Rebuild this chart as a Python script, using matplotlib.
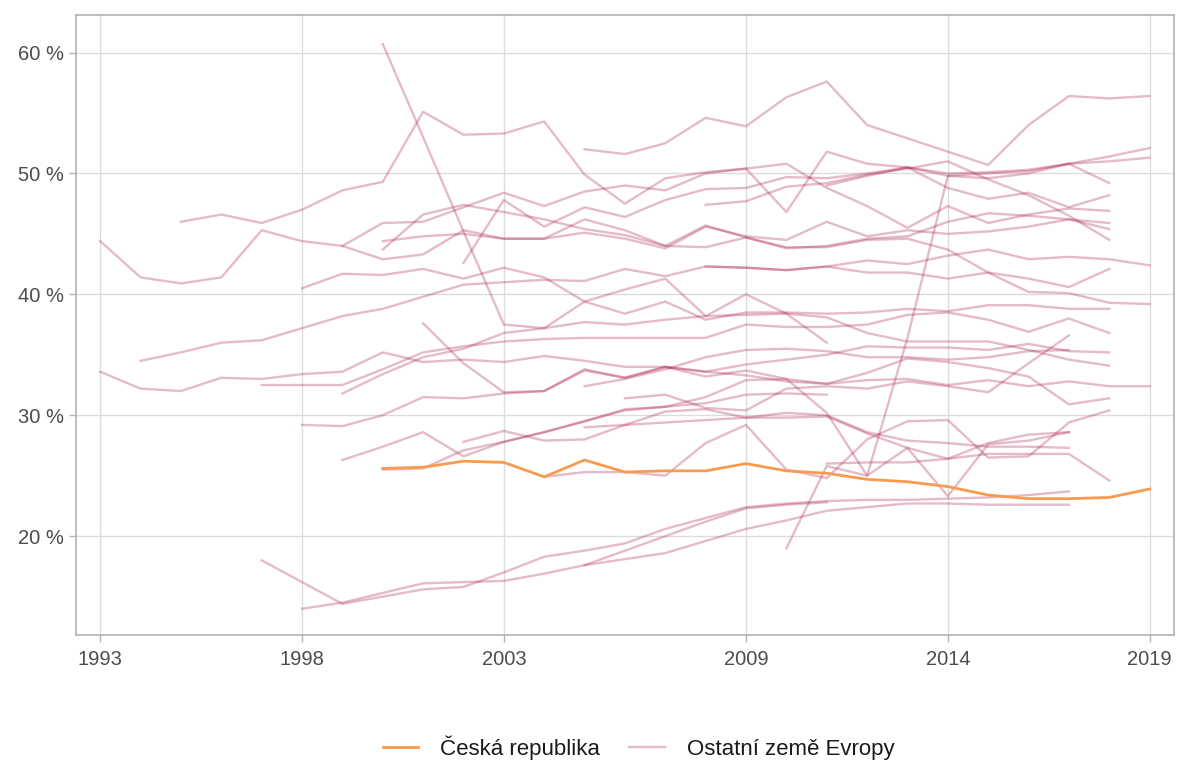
import numpy as np
import matplotlib
matplotlib.use("agg")
import matplotlib.pyplot as plt

plt.rcParams['font.family'] = ['Liberation Sans', 'DejaVu Sans']

# Czech Republic
cz_start = 2000
cz_values = [25.6, 25.7, 26.2, 26.1, 24.9, 26.3, 25.3, 25.4, 25.4, 26.0,
             25.4, 25.2, 24.7, 24.5, 24.1, 23.4, 23.1, 23.1, 23.2, 23.9]

# other European countries: (first year, values)
others = [
    (1993, [44.4, 41.4, 40.9, 41.4, 45.3, 44.4, 44.0, 42.9, 43.3, 45.3, 44.6, 44.6, 45.1,
            44.6, 43.8, 45.6, 44.8, 44.5, 46.0, 44.8, 45.3, 45.0, 45.2, 45.6, 46.2, 45.9]),
    (1995, [46.0, 46.6, 45.9, 47.0, 48.6, 49.3, 55.1, 53.2, 53.3, 54.3, 49.9, 47.5, 49.6,
            50.1, 50.4, 50.8, 48.8, 47.3, 45.5, 47.3, 45.9, 46.6, 47.1, 46.9]),
    (2005, [52.0, 51.6, 52.5, 54.6, 53.9, 56.3, 57.6, 54.0, 52.9, 51.8, 50.7, 54.0, 56.4,
            56.2, 56.4]),
    (2000, [60.7, 53.0, 45.2, 37.5, 37.2, 39.4, 40.4, 41.3, 38.2, 40.0, 38.4, 36.0]),
    (1994, [34.5, 35.2, 36.0, 36.2, 37.2, 38.2, 38.8, 39.8, 40.8, 41.0, 41.2, 41.1, 42.1,
            41.5, 42.3, 42.2, 42.0, 42.3, 41.8, 41.8, 41.3, 41.8, 41.3, 40.6, 42.1]),
    (1999, [44.0, 45.9, 46.0, 47.2, 48.4, 47.3, 48.5, 49.0, 48.6, 50.0, 50.4, 46.8, 51.8,
            50.8, 50.5, 50.0, 50.1, 50.3, 50.8, 49.2]),
    (2000, [43.7, 46.6, 47.4, 46.8, 46.2, 45.4, 44.9, 44.0, 43.9, 44.7, 43.9, 43.9, 44.5,
            44.6, 43.7, 41.8, 40.2, 40.1, 39.3, 39.2]),
    (2000, [44.4, 44.8, 45.0, 44.6, 44.6, 46.2, 45.3, 44.0, 45.7, 44.7, 43.8, 44.0, 44.6,
            44.8, 46.0, 46.7, 46.5, 46.2, 45.4]),
    (2002, [42.6, 47.8, 45.6, 47.2, 46.4, 47.8, 48.7, 48.8, 49.7, 49.6, 50.0, 50.5, 49.8,
            49.6, 50.0, 50.8, 51.0, 51.3]),
    (2008, [47.4, 47.7, 48.9, 49.2, 49.9, 50.4, 51.0, 49.5, 48.2, 46.5, 44.5]),
    (2011, [49.0, 49.8, 50.5, 48.8, 47.9, 48.4, 47.2, 48.2]),
    (2008, [42.3, 42.2, 42.0, 42.3, 42.8, 42.5, 43.2, 43.7, 42.9, 43.1, 42.9, 42.4]),
    (1998, [40.5, 41.7, 41.6, 42.1, 41.3, 42.2, 41.4, 39.4, 38.4, 39.4, 37.9, 38.5, 38.5,
            38.4, 38.5, 38.8, 38.6, 39.1, 39.1, 38.8, 38.8]),
    (1997, [32.5, 32.5, 32.5, 33.8, 35.2, 35.7, 36.1, 36.3, 36.4, 36.4, 36.4, 36.4, 37.5,
            37.3, 37.3, 37.5, 38.3, 38.5, 37.9, 36.9, 38.0, 36.8]),
    (1999, [31.8, 33.4, 34.8, 35.5, 36.8, 37.2, 37.7, 37.5, 37.9, 38.2, 38.3, 38.4, 38.1,
            36.8, 36.1, 36.1, 36.1, 35.4, 34.6, 34.1]),
    (2001, [37.6, 34.3, 31.9, 32.0, 33.8, 33.1, 34.0, 33.2, 33.7, 33.0, 30.2, 25.0, 27.3,
            23.3, 27.6, 27.9, 28.6]),
    (1998, [29.2, 29.1, 30.0, 31.5, 31.4, 31.8, 32.0, 33.7, 33.1, 34.0, 33.6, 34.2, 34.6,
            35.0, 35.7, 35.6, 35.6, 35.4, 35.9, 35.3, 35.2]),
    (1993, [33.6, 32.2, 32.0, 33.1, 33.0, 33.4, 33.6, 35.2, 34.4, 34.6, 34.4, 34.9, 34.5,
            34.0, 34.0, 33.6, 33.3, 32.8, 32.6, 32.9, 33.0, 32.5, 32.9, 32.4, 32.8, 32.4, 32.4]),
    (1999, [26.3, 27.4, 28.6, 26.6, 27.8, 28.6, 29.5, 30.5, 30.7, 31.0, 31.7, 31.8, 31.7]),
    (2000, [25.5, 25.6, 27.1, 27.8, 28.6, 29.5, 30.4, 30.7, 31.5, 32.9, 33.0, 32.6, 33.5,
            34.7, 34.4, 33.9, 33.2, 30.9, 31.4]),
    (2002, [27.8, 28.7, 27.9, 28.0, 29.2, 30.3, 30.5, 29.8, 29.8, 29.9, 28.5, 27.3, 26.4,
            27.7, 28.4, 28.6]),
    (2004, [24.9, 25.3, 25.3, 25.0, 27.7, 29.2, 25.5, 24.8, 28.0, 29.5, 29.6, 26.5, 26.6,
            29.4, 30.4]),
    (2005, [29.0, 29.2, 29.4, 29.6, 29.8, 30.2, 30.0, 28.6, 27.9, 27.7, 27.4, 27.4, 27.3]),
    (2011, [26.0, 26.1, 26.1, 26.4, 26.8, 26.8, 26.8, 24.6]),
    (2010, [19.0, 25.8, 25.0, 36.4, 49.8, 50.0, 50.2, 50.8, 51.4, 52.1]),
    (2006, [31.4, 31.7, 30.6, 30.4, 32.2, 32.4, 32.2, 32.8, 32.4, 31.9, 34.3, 36.6]),
    (2005, [32.4, 33.0, 33.8, 34.8, 35.4, 35.5, 35.3, 34.8, 34.8, 34.6, 34.8, 35.3, 35.4]),
    (1998, [14.0, 14.5, 15.3, 16.1, 16.2, 16.3, 16.9, 17.6, 18.1, 18.6, 19.6, 20.6, 21.3,
            22.1, 22.4, 22.7, 22.7, 22.6, 22.6, 22.6]),
    (1997, [18.0, 16.2, 14.4, 15.0, 15.6, 15.8, 17.0, 18.3, 18.8, 19.4, 20.6, 21.5, 22.4,
            22.7, 22.9, 23.0, 23.0, 23.1, 23.2, 23.4, 23.7]),
    (2005, [17.6, 18.8, 20.0, 21.2, 22.3, 22.6, 22.8]),
]

x_ticks = [1993, 1998, 2003, 2009, 2014, 2019]
y_ticks = [20, 30, 40, 50, 60]

fig = plt.figure(figsize=(11.78, 7.63), dpi=100)
ax = fig.add_axes([0.0645, 0.168, 0.932, 0.812])

pink = '#aa1e50'
for i, (start, vals) in enumerate(others):
    yrs = np.arange(start, start + len(vals))
    ax.plot(yrs, vals, color=pink, alpha=0.3, lw=1.7,
            label='Ostatní země Evropy' if i == 0 else None, zorder=2)

cz_years = np.arange(cz_start, cz_start + len(cz_values))
ax.plot(cz_years, cz_values, color='#f99b4e', lw=2.0, label='Česká republika', zorder=3)

ax.set_xlim(1992.4, 2019.6)
ax.set_ylim(11.84, 63.08)
ax.set_xticks(x_ticks)
ax.set_yticks(y_ticks)
ax.set_yticklabels([f'{v} %' for v in y_ticks])
ax.grid(True, color='#dcdcdc', lw=1.0)
ax.set_axisbelow(True)
for s in ax.spines.values():
    s.set_color('#b3b3b3')
    s.set_linewidth(1.2)
ax.tick_params(colors='#b3b3b3', labelcolor='#4d4d4d', labelsize=14.5, length=5, width=1)
ax.tick_params(axis='x', pad=6)

handles, labels = ax.get_legend_handles_labels()
order = [labels.index('Česká republika'), labels.index('Ostatní země Evropy')]
leg = fig.legend([handles[k] for k in order], [labels[k] for k in order],
                 loc='center', bbox_to_anchor=(0.542, 0.02), ncol=2, frameon=False,
                 fontsize=16, handlelength=1.6, columnspacing=1.3, handletextpad=1.0)
for t in leg.get_texts():
    t.set_color('#1a1a1a')

fig.savefig('out.png', dpi=100)
